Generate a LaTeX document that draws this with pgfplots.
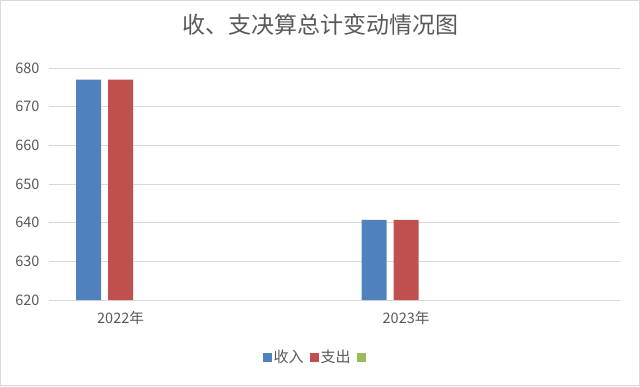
\documentclass[border=0pt]{standalone}
\usepackage{pgfplots}
\pgfplotsset{compat=1.18}
\usepackage{fontspec}
\setmainfont{Noto Sans CJK SC}
\definecolor{cblue}{HTML}{4F81BD}
\definecolor{cred}{HTML}{C0504D}
\definecolor{cgreen}{HTML}{9BBB59}
\definecolor{ctext}{HTML}{595959}
\definecolor{cgrid}{HTML}{D9D9D9}
\begin{document}
\begin{tikzpicture}[x=1pt,y=1pt]
\path[use as bounding box] (0,0) rectangle (640,386);
\draw[color=cgrid, line width=1pt] (0.5,0.5) rectangle (639.5,385.5);
\node[text=ctext, font=\fontsize{23}{26}\selectfont] at (320,361) {收、支决算总计变动情况图};
\begin{axis}[
  at={(49pt,86pt)}, anchor=south west,
  width=571pt, height=232pt, scale only axis,
  xmin=49, xmax=620,
  ymin=620, ymax=680,
  ytick={620,630,...,680},
  xtick={120.5,406},
  xticklabels={2022年,2023年},
  ymajorgrids, grid style={cgrid, line width=0.8pt},
  axis x line*=bottom,
  axis y line*=left,
  x axis line style={draw=cgrid, line width=0.8pt},
  y axis line style={draw=none},
  major tick length=0pt,
  tick label style={text=ctext, font=\fontsize{14.5}{16}\selectfont},
  /pgf/number format/assume math mode=true,
  yticklabel style={xshift=-6pt},
  xticklabel style={yshift=-8pt},
  ybar, bar width=25pt,
  legend style={at={(0.468,-0.246)}, anchor=center, draw=none, fill=none,
    legend columns=3, font=\fontsize{15}{16}\selectfont, text=ctext,
    /tikz/every even column/.append style={column sep=4pt}},
  legend image code/.code={\fill[#1] (0pt,-4.5pt) rectangle (9pt,4.5pt);},
]
\addplot[fill=cblue, draw=none, bar shift=-32pt] coordinates {(120.5,677.0) (406,640.7)};
\addlegendentry{收入}
\addplot[fill=cred, draw=none, bar shift=0pt] coordinates {(120.5,677.0) (406,640.7)};
\addlegendentry{支出}
\addlegendimage{fill=cgreen, draw=none}
\addlegendentry{}
\end{axis}
\end{tikzpicture}
\end{document}
